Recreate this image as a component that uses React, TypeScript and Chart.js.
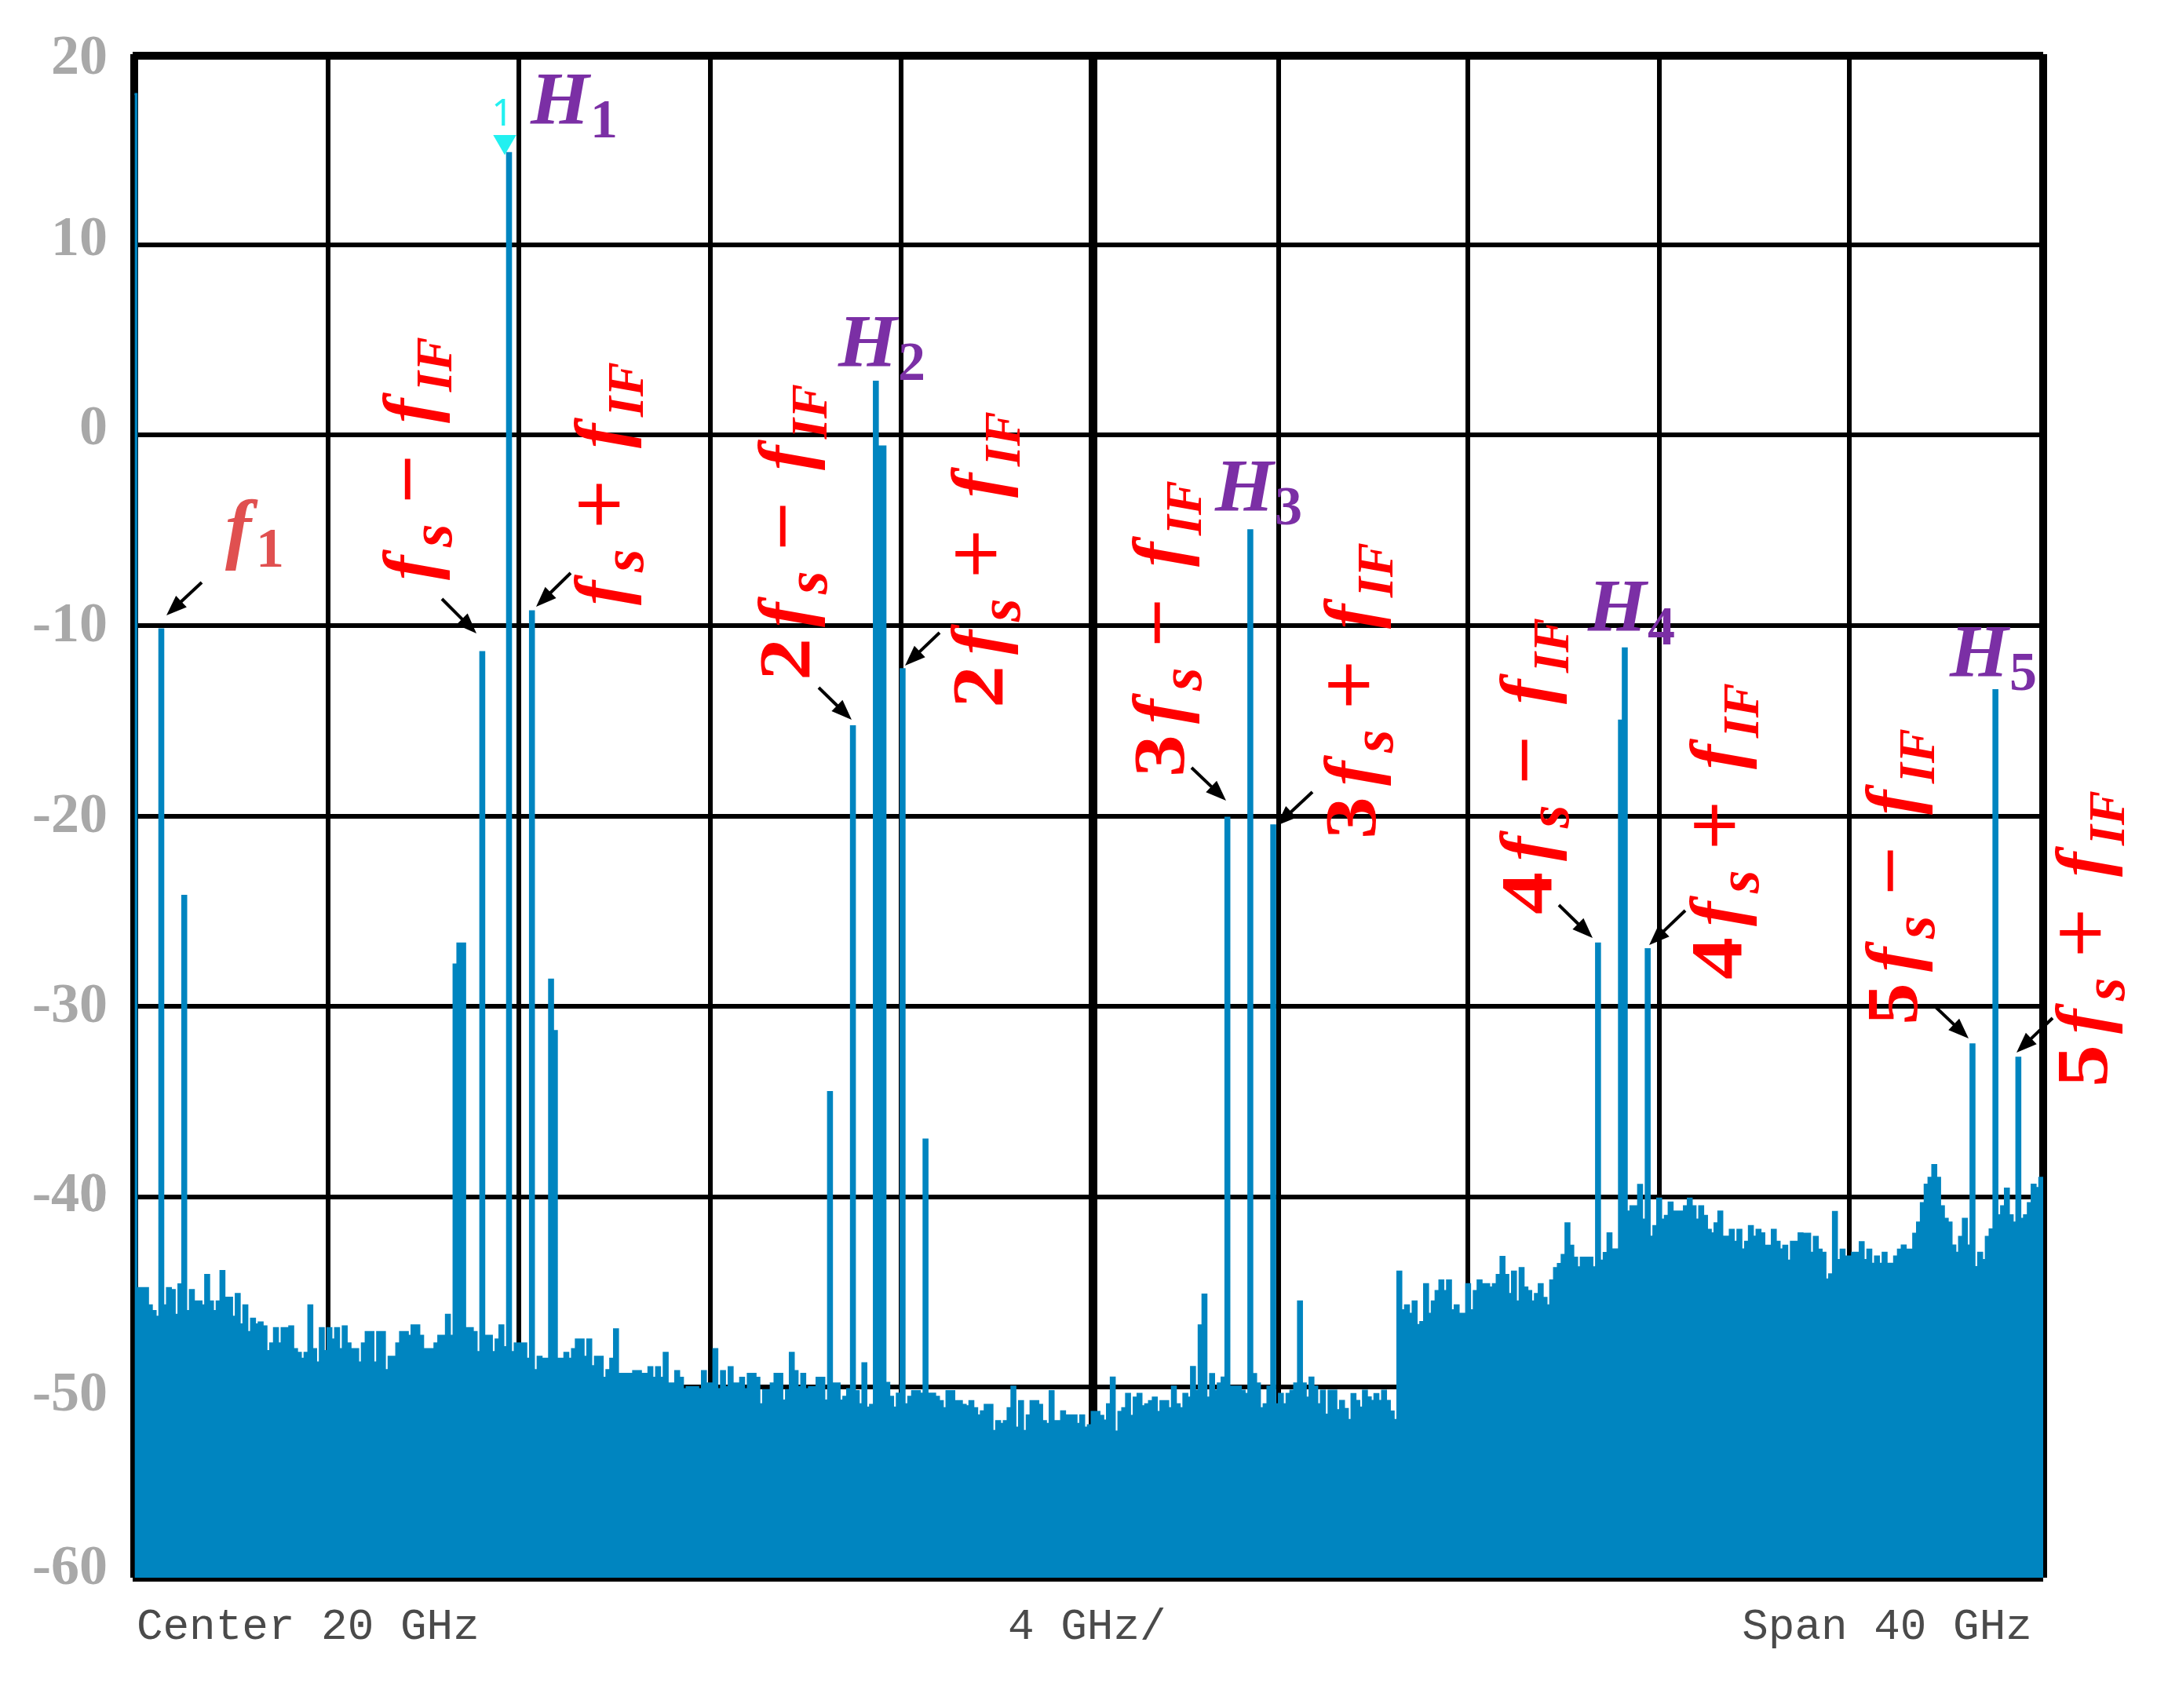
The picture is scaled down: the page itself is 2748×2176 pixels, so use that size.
import { useEffect, useRef } from "react"
import { Chart, registerables } from "chart.js"

Chart.register(...registerables)

// trace level in dBm, one value per 0.08 GHz bin
const trace0to8 = [
  17.9, -44.8, -44.8, -44.8, -45.7, -46.0, -46.3, -10.2, -45.7, -44.8,
  -44.9, -46.2, -44.6, -24.2, -46.0, -44.9, -45.5, -45.5, -45.7, -44.1,
  -45.5, -46.0, -45.5, -43.9, -45.3, -45.3, -46.3, -45.1, -46.7, -45.7,
  -47.1, -46.4, -46.7, -46.6, -46.8, -48.1, -47.7, -46.9, -47.7, -46.9,
  -46.9, -46.8, -48.0, -48.2, -48.5, -48.2, -45.7, -48.0, -48.7, -46.9,
  -48.1, -46.9, -47.5, -46.9, -48.0, -46.8, -47.7, -48.0, -48.0, -48.7,
  -47.7, -47.1, -47.1, -48.7, -47.1, -47.1, -49.1, -48.4, -48.4, -47.7,
  -47.1, -47.1, -47.3, -46.75, -46.75, -47.3, -48.0, -48.0, -48.0, -47.7,
  -47.3, -47.3, -46.2, -47.3, -27.8, -26.7, -26.7, -46.9, -46.9, -47.1,
  -48.15, -11.4, -47.3, -47.3, -48.15, -47.5, -46.75, -47.9, 14.8, -48.15,
]
const trace8to16 = [
  -47.7, -47.7, -47.7, -48.5, -9.26, -49.1, -48.4, -48.5, -48.5, -28.6,
  -31.3, -48.5, -48.5, -48.2, -48.5, -48.0, -47.5, -47.5, -48.4, -47.5,
  -48.9, -48.4, -48.4, -49.5, -49.1, -48.5, -46.96, -49.3, -49.3, -49.3,
  -49.3, -49.15, -49.15, -49.3, -49.3, -48.95, -49.5, -48.95, -49.5, -48.2,
  -49.8, -49.8, -49.15, -49.5, -50.1, -50.0, -50.0, -50.0, -50.1, -49.15,
  -49.8, -49.8, -48.0, -50.1, -49.15, -50.0, -48.95, -49.8, -49.8, -49.5,
  -50.1, -49.3, -49.3, -49.5, -50.9, -50.15, -50.15, -49.8, -49.3, -49.3,
  -50.7, -50.15, -48.2, -49.15, -50.0, -49.3, -50.1, -50.0, -50.0, -49.5,
  -49.5, -50.7, -34.5, -49.8, -49.8, -50.7, -50.5, -50.1, -15.3, -50.2,
  -50.9, -48.74, -51.07, -50.93, 2.8, -0.6, -0.6, -49.77, -50.5, -51.07,
]
const trace16to24 = [
  -50.34, -12.3, -50.9, -50.5, -50.2, -50.2, -50.34, -37.0, -50.34, -50.34,
  -50.5, -50.73, -51.1, -50.2, -50.2, -50.73, -50.73, -50.93, -51.0, -50.73,
  -51.1, -51.48, -51.27, -50.93, -50.93, -52.3, -51.78, -51.93, -51.78, -51.1,
  -49.97, -52.12, -50.73, -52.3, -51.48, -50.73, -50.73, -50.93, -51.78, -51.93,
  -50.2, -51.78, -51.78, -51.27, -51.48, -51.48, -51.48, -51.93, -51.48, -52.12,
  -52.0, -51.3, -51.3, -51.5, -51.75, -50.9, -49.49, -52.33, -51.3, -51.1,
  -50.35, -51.5, -50.55, -50.35, -51.0, -50.9, -50.73, -50.55, -51.3, -50.73,
  -50.73, -51.1, -49.97, -50.9, -51.1, -50.35, -50.55, -48.94, -50.18, -46.75,
  -45.14, -50.55, -49.31, -50.18, -49.8, -49.49, -20.1, -49.97, -49.97, -49.97,
  -50.18, -50.35, -5.0, -49.31, -49.8, -51.1, -50.9, -49.97, -20.5, -50.9,
]
const trace24to32 = [
  -50.35, -50.9, -50.35, -50.18, -49.8, -45.5, -49.8, -50.55, -49.49, -49.97,
  -50.9, -50.18, -51.44, -50.18, -50.18, -51.2, -50.72, -51.14, -51.72, -50.36,
  -50.72, -51.07, -50.18, -50.53, -50.72, -50.36, -50.72, -50.18, -50.72, -51.28,
  -51.72, -43.93, -45.96, -45.7, -46.15, -45.5, -46.73, -46.58, -44.59, -46.15,
  -45.5, -44.95, -44.39, -44.95, -44.39, -45.96, -45.7, -46.15, -46.15, -44.59,
  -45.96, -44.95, -44.39, -44.59, -44.59, -44.76, -44.59, -44.1, -43.16, -44.1,
  -45.1, -43.93, -45.5, -43.74, -44.76, -44.95, -45.5, -45.1, -44.59, -45.31,
  -45.7, -44.39, -43.74, -43.53, -43.05, -41.4, -42.57, -43.2, -43.7, -43.2,
  -43.2, -43.2, -43.7, -26.7, -43.35, -42.95, -41.92, -42.77, -42.77, -15.0,
  -11.2, -40.78, -40.5, -40.5, -39.38, -41.2, -27.0, -42.1, -41.54, -40.1,
]
const trace32to40 = [
  -41.2, -41.0, -40.3, -40.78, -40.78, -40.78, -40.5, -40.1, -40.5, -41.2,
  -40.5, -41.0, -41.74, -41.92, -41.4, -40.78, -42.1, -42.1, -41.74, -42.36,
  -41.74, -42.77, -42.36, -41.54, -42.1, -41.74, -41.92, -42.57, -42.57, -41.74,
  -42.36, -42.77, -42.57, -43.35, -42.36, -42.36, -41.92, -41.94, -41.94, -42.94,
  -42.11, -42.78, -42.94, -44.34, -44.07, -40.8, -43.32, -42.78, -43.14, -43.14,
  -42.94, -42.94, -42.38, -43.32, -42.78, -43.52, -43.14, -43.52, -42.94, -43.52,
  -43.52, -43.14, -42.78, -42.56, -42.78, -42.78, -41.94, -41.35, -40.33, -39.37,
  -39.0, -38.34, -39.0, -40.5, -41.16, -41.35, -42.56, -42.94, -42.11, -41.16,
  -42.56, -32.0, -43.69, -42.94, -43.32, -42.11, -41.71, -13.4, -40.97, -40.5,
  -39.57, -40.97, -41.35, -32.7, -41.16, -40.97, -40.33, -39.37, -39.54, -39.0,
]

const binGHz = 0.08
const traceLevels = [...trace0to8, ...trace8to16, ...trace16to24, ...trace24to32, ...trace32to40]

// the vertical graticule of the photographed screen is not quite even
const gridFreqs = [0.04, 4.1, 8.09, 12.09, 16.09, 20.11, 24.0, 27.95, 31.96, 35.94, 40]
const centerFreq = 20.11
const footerLabels = ["Center 20 GHz", "4 GHz/", "Span 40 GHz"]
const footerFreqs = [3.67, 19.98, 36.73]

const levelMin = -60
const levelMax = 20
// the top frame line is a touch below the 20 dB mark on the photographed screen
const frameTopLevel = 19.9
const gridLevels = [frameTopLevel, 10, 0, -10, -20, -30, -40, -50, -60]
// the printed level numbers sit a little off their grid lines
const levelLabels = ["20", "10", "0", "-10", "-20", "-30", "-40", "-50", "-60"]
const levelLabelAt = [19.72, 10.2, 0.3, -10.05, -20.08, -30.05, -40.0, -50.45, -59.55]

const markerFreq = [7.79]
const markerLevel = [15.4]

const FONT = "'Liberation Serif'"
const RED = "#ff0000"
const PURPLE = "#7b2fa5"
const CORAL = "#e05050"
const TRACE = "#0085c0"

// rotated sideband labels: harmonic, sign, baseline x, start y
const sidebands: [number, string, number, number][] = [
  [1, "\u2212", 553, 739],
  [1, "+", 797, 771],
  [2, "\u2212", 1031, 867],
  [2, "+", 1277, 902],
  [3, "\u2212", 1508, 990],
  [3, "+", 1752, 1069],
  [4, "\u2212", 1976, 1165],
  [4, "+", 2218, 1248],
  [5, "\u2212", 2442, 1306],
  [5, "+", 2684, 1385],
]

// purple harmonic names: index, x, baseline y
const harmonicNames: [string, number, number][] = [
  ["1", 676, 158],
  ["2", 1068, 467],
  ["3", 1548, 651],
  ["4", 2023, 804],
  ["5", 2484, 862],
]

// black pointers: from x, y, to x, y
const pointers: number[][] = [
  [257, 742, 212, 784],
  [563, 763, 607, 807],
  [727, 730, 683, 773],
  [1043, 876, 1085, 917],
  [1197, 806, 1153, 848],
  [1518, 978, 1562, 1020],
  [1672, 1009, 1626, 1052],
  [1986, 1153, 2029, 1195],
  [2147, 1160, 2101, 1204],
  [2466, 1283, 2508, 1323],
  [2615, 1297, 2569, 1341],
]

function drawPointer(ctx: CanvasRenderingContext2D, p: number[]) {
  const angle = Math.atan2(p[3] - p[1], p[2] - p[0])
  const head = 26
  ctx.save()
  ctx.strokeStyle = "#000"
  ctx.fillStyle = "#000"
  ctx.lineWidth = 4
  ctx.beginPath()
  ctx.moveTo(p[0], p[1])
  ctx.lineTo(p[2] - Math.cos(angle) * head * 0.8, p[3] - Math.sin(angle) * head * 0.8)
  ctx.stroke()
  ctx.translate(p[2], p[3])
  ctx.rotate(angle)
  ctx.beginPath()
  ctx.moveTo(0, 0)
  ctx.lineTo(-head, -10)
  ctx.lineTo(-head, 10)
  ctx.closePath()
  ctx.fill()
  ctx.restore()
}

function drawSideband(ctx: CanvasRenderingContext2D, n: number, sign: string, x: number, y: number) {
  ctx.save()
  ctx.translate(x, y)
  ctx.rotate(-Math.PI / 2)
  ctx.fillStyle = RED
  ctx.strokeStyle = RED
  ctx.textBaseline = "alphabetic"
  ctx.textAlign = "left"
  let pen = 0
  if (n > 1) {
    ctx.save()
    ctx.scale(1.15, 1)
    ctx.font = `bold 94px ${FONT}`
    ctx.fillText(String(n), 0, 0)
    ctx.restore()
    pen = 68
  }
  ctx.font = `italic bold 94px ${FONT}`
  ctx.fillText("f", pen, 0)
  ctx.font = `italic bold 76px ${FONT}`
  ctx.fillText("s", pen + 42, 22)
  ctx.font = `108px ${FONT}`
  ctx.lineWidth = 1.5
  ctx.fillText(sign, pen + 98, 2)
  ctx.strokeText(sign, pen + 98, 2)
  ctx.font = `italic bold 94px ${FONT}`
  ctx.fillText("f", pen + 200, 0)
  ctx.font = `italic bold 66px ${FONT}`
  ctx.fillText("IF", pen + 240, 22)
  ctx.restore()
}

const annotations = {
  id: "annotations",
  afterDatasetsDraw(chart: Chart) {
    const ctx = chart.ctx
    ctx.save()
    sidebands.forEach(([n, sign, x, y]) => drawSideband(ctx, n, sign, x, y))
    pointers.forEach((p) => drawPointer(ctx, p))

    ctx.textBaseline = "alphabetic"
    ctx.textAlign = "left"
    ctx.fillStyle = PURPLE
    harmonicNames.forEach(([i, x, y]) => {
      ctx.font = `italic bold 96px ${FONT}`
      ctx.fillText("H", x, y)
      ctx.font = `bold 70px ${FONT}`
      ctx.fillText(i, x + 76, y + 17)
    })

    ctx.fillStyle = CORAL
    ctx.font = `italic bold 100px ${FONT}`
    ctx.fillText("f", 287, 706)
    ctx.font = `bold 72px ${FONT}`
    ctx.fillText("1", 326, 722)

    ctx.fillStyle = "#22f0f0"
    ctx.font = "48px 'Noto Sans'"
    ctx.textAlign = "center"
    ctx.fillText("1", 640, 160)
    ctx.restore()
  },
}

export default function App() {
  const chartRef = useRef<HTMLCanvasElement>(null)

  useEffect(() => {
    if (!chartRef.current) return

    const points = traceLevels.map((y, i) => ({ x: (i + 0.5) * binGHz, y }))
    points.push({ x: 40, y: traceLevels[traceLevels.length - 1] })

    const chart = new Chart(chartRef.current, {
      type: "line",
      data: {
        datasets: [
          {
            data: markerFreq.map((x, i) => ({ x, y: markerLevel[i] })),
            showLine: false,
            pointStyle: "triangle",
            rotation: 180,
            pointRadius: 17,
            pointBackgroundColor: "#22f0f0",
            pointBorderWidth: 0,
          },
          {
            data: points,
            stepped: "middle",
            fill: "start",
            backgroundColor: TRACE,
            borderColor: TRACE,
            borderWidth: 2.7,
            pointRadius: 0,
          },
        ],
      },
      options: {
        animation: false,
        responsive: false,
        devicePixelRatio: 1,
        layout: { padding: { top: 69, right: 145, left: 0, bottom: 0 } },
        plugins: { legend: { display: false }, tooltip: { enabled: false } },
        scales: {
          x: {
            type: "linear",
            min: 0,
            max: 40,
            afterBuildTicks: (scale) => {
              scale.ticks = [...gridFreqs, ...footerFreqs].sort((a, b) => a - b).map((value) => ({ value }))
            },
            afterFit: (scale) => {
              scale.height = 166
            },
            border: { display: false },
            grid: {
              drawTicks: false,
              color: (ctx) => (gridFreqs.includes(ctx.tick?.value) ? "#000" : "rgba(0,0,0,0)"),
              lineWidth: (ctx) => {
                const v = ctx.tick?.value
                if (!gridFreqs.includes(v)) return 0
                if (v === gridFreqs[0] || v === 40) return 10
                return v === centerFreq ? 11 : 6
              },
            },
            ticks: {
              autoSkip: false,
              maxRotation: 0,
              padding: 30,
              color: "#4a4a4a",
              font: { family: "'Liberation Mono'", size: 56 },
              callback: (value) => {
                const i = footerFreqs.indexOf(Number(value))
                return i >= 0 ? footerLabels[i] : ""
              },
            },
          },
          y: {
            min: levelMin,
            max: levelMax,
            afterBuildTicks: (scale) => {
              scale.ticks = [...gridLevels, ...levelLabelAt].sort((a, b) => a - b).map((value) => ({ value }))
            },
            afterFit: (scale) => {
              scale.width = 169
              // the big tick font would otherwise push the plot top down
              scale.paddingTop = 0
              scale.paddingBottom = 0
            },
            border: { display: false },
            grid: {
              drawTicks: false,
              color: (ctx) => (gridLevels.includes(ctx.tick?.value) ? "#000" : "rgba(0,0,0,0)"),
              lineWidth: (ctx) => {
                const v = ctx.tick?.value
                if (!gridLevels.includes(v)) return 0
                return v === levelMin || v === frameTopLevel ? 10 : 6
              },
            },
            ticks: {
              autoSkip: false,
              padding: 32,
              color: "#a8a8a8",
              font: { family: FONT, size: 72, weight: "bold" },
              callback: (value) => {
                const i = levelLabelAt.indexOf(Number(value))
                return i >= 0 ? levelLabels[i] : ""
              },
            },
          },
        },
      },
      plugins: [annotations],
    })

    return () => {
      chart.destroy()
    }
  }, [])

  return (
    <div style={{ position: "absolute", left: 0, top: 0 }}>
      <canvas ref={chartRef} width={2748} height={2176} style={{ display: "block" }} />
    </div>
  )
}
